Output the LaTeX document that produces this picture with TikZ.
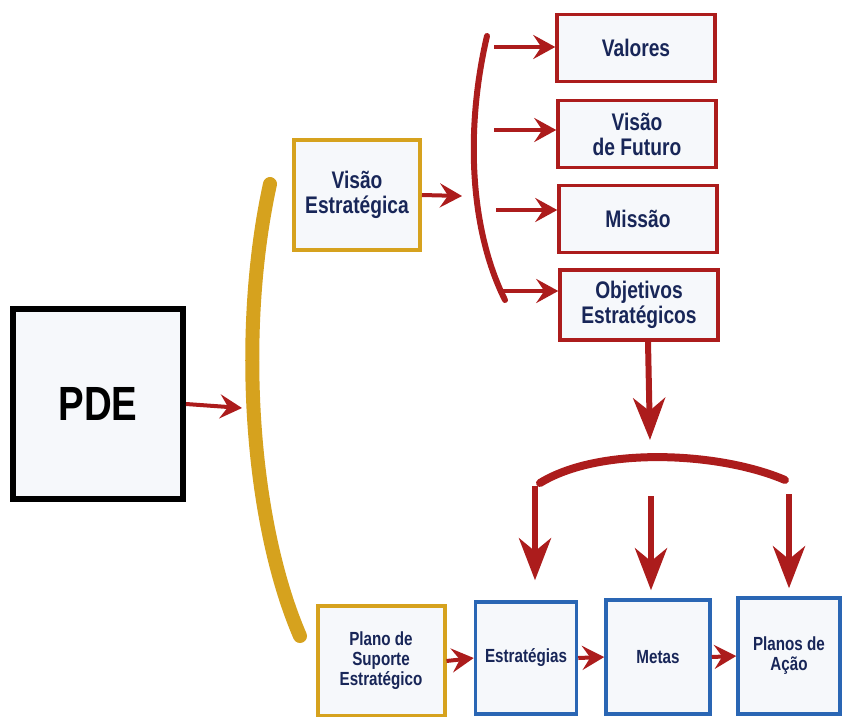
\documentclass[tikz,border=0pt]{standalone}
\usepackage{fontspec}
\setmainfont{Liberation Sans}[FakeStretch=0.8]
\usepackage{xcolor}
\usepackage{tikz}
\usetikzlibrary{arrows.meta,positioning,calc}

\definecolor{gold}{RGB}{214,162,30}
\definecolor{penred}{RGB}{172,28,28}
\definecolor{penblue}{RGB}{42,102,180}
\definecolor{inkblue}{RGB}{24,38,88}
\definecolor{paper}{RGB}{246,248,251}

\begin{document}
\begin{tikzpicture}[x=1pt,y=-1pt,
  box/.style={draw,fill=paper,inner sep=0pt,align=center,text=inkblue,
    font=\bfseries\fontsize{24}{25}\selectfont},
  pdebox/.style={box,line width=6pt,draw=black,text=black,minimum width=170pt,minimum height=190pt,
    font=\bfseries\fontsize{48}{50}\selectfont},
  goldbox/.style={box,line width=4pt,draw=gold},
  redbox/.style={box,line width=3.5pt,draw=penred,minimum width=158pt,minimum height=67pt},
  bluebox/.style={box,line width=3.5pt,draw=penblue,font=\bfseries\fontsize{19}{20}\selectfont},
  pen/.style={penred,line width=4pt,-{Stealth[length=22pt,width=24pt,inset=8pt]}},
  bigpen/.style={penred,line width=6pt,-{Stealth[length=42pt,width=32pt,inset=13pt]}}]
  \useasboundingbox (0,0) rectangle (843,717);
  % left side
  \node[pdebox] (PDE) at (98,404) {PDE};
  \draw[gold,line width=14pt,line cap=round] (270,184) .. controls (238,330) and (250,520) .. (300,636);
  \coordinate (arcin) at (242,408);
  \draw[pen] (PDE.east) -- (arcin);
  \node[goldbox,minimum width=126pt,minimum height=110pt] (visao) at (357,195) {Visão\\Estratégica};
  % red column
  \draw[penred,line width=6pt,line cap=round] (487,36) .. controls (465,130) and (470,230) .. (505,300);
  \coordinate (vin) at (462,196);
  \draw[pen] (visao.east) -- (vin);
  \node[redbox] (valores) at (636,48) {Valores};
  \node[redbox] (futuro) at (637,134) {Visão\\de Futuro};
  \node[redbox] (missao) at (638,219) {Missão};
  \node[redbox,minimum height=70pt] (objetivos) at (639,305) {Objetivos\\Estratégicos};
  \coordinate (b1) at (494,47);
  \coordinate (b2) at (494,130);
  \coordinate (b3) at (496,210);
  \coordinate (b4) at (500,291);
  \foreach \b/\t in {b1/valores,b2/futuro,b3/missao,b4/objetivos}
    \draw[pen] (\b) -- (\b -| \t.west);
  % fan to the bottom row
  \coordinate (down) at (650,440);
  \draw[bigpen] ($(objetivos.south)+(9,0)$) -- (down);
  \draw[penred,line width=8pt,line cap=round] (540,483) .. controls (600,446) and (720,452) .. (785,480);
  \node[goldbox,minimum width=127pt,minimum height=110pt,font=\bfseries\fontsize{19}{20}\selectfont]
    (plano) at (381,661) {Plano de\\Suporte\\Estratégico};
  \node[bluebox,minimum width=101pt,minimum height=112pt] (estrategias) at (526,658) {Estratégias};
  \node[bluebox,minimum width=104pt,minimum height=114pt] (metas) at (658,657) {Metas};
  \node[bluebox,minimum width=102pt,minimum height=116pt] (planos) at (789,656) {Planos de\\Ação};
  \coordinate (f1) at (535,486);
  \coordinate (f2) at (651,496);
  \coordinate (f3) at (789,494);
  \draw[bigpen,shorten >=20pt] (f1) -- (f1 |- estrategias.north);
  \draw[bigpen,shorten >=8pt] (f2) -- (f2 |- metas.north);
  \draw[bigpen,shorten >=8pt] (f3) -- (f3 |- planos.north);
  \draw[pen] (plano.east) -- (estrategias.west);
  \draw[pen] (estrategias.east) -- (metas.west);
  \draw[pen] (metas.east) -- (planos.west);
\end{tikzpicture}
\end{document}
